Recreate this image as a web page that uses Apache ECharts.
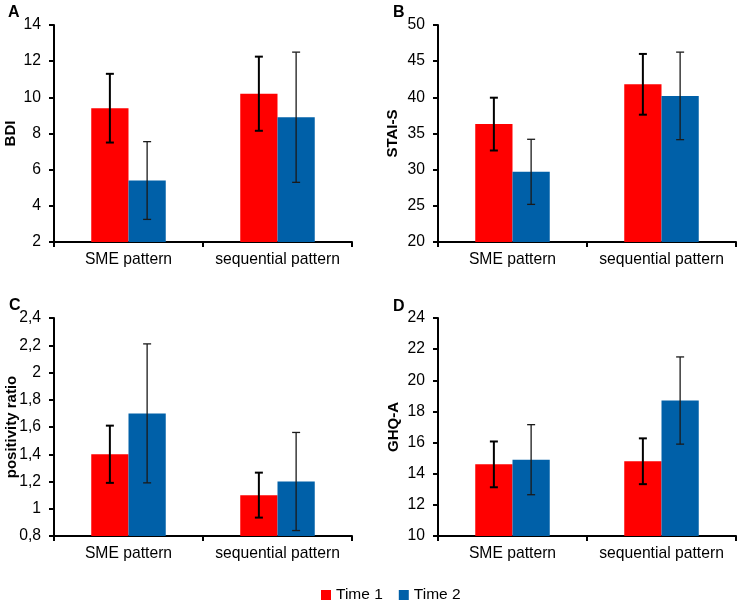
<!DOCTYPE html>
<html><head><meta charset="utf-8">
<script src="https://cdn.jsdelivr.net/npm/echarts@6/dist/echarts.min.js"></script>
<style>html,body{margin:0;padding:0;background:#fff}#c{width:740px;height:604px}</style>
</head><body><div id="c"></div>
<script>
const categories = ['SME pattern', 'sequential pattern'];
const legendNames = ['Time 1', 'Time 2'];

const bdiT1 = [9.4, 10.2];   const bdiT1Err = [1.9, 2.05];
const bdiT2 = [5.4, 8.9];    const bdiT2Err = [2.15, 3.6];
const staiT1 = [36.3, 41.8]; const staiT1Err = [3.65, 4.2];
const staiT2 = [29.7, 40.2]; const staiT2Err = [4.5, 6.05];
const posT1 = [1.4, 1.1];    const posT1Err = [0.21, 0.165];
const posT2 = [1.7, 1.2];    const posT2Err = [0.51, 0.36];
const ghqT1 = [14.6, 14.8];  const ghqT1Err = [1.47, 1.47];
const ghqT2 = [14.9, 18.7];  const ghqT2Err = [2.25, 2.8];

const panelLetters = ['A', 'B', 'C', 'D'];
const axisNames = ['BDI', 'STAI-S', 'positivity ratio', 'GHQ-A'];
const yMin = [2, 20, 0.8, 10];
const yMax = [14, 50, 2.4, 24];
const yInterval = [2, 5, 0.2, 2];

const panels = [
  [bdiT1, bdiT1Err, bdiT2, bdiT2Err],
  [staiT1, staiT1Err, staiT2, staiT2Err],
  [posT1, posT1Err, posT2, posT2Err],
  [ghqT1, ghqT1Err, ghqT2, ghqT2Err]
];

const FONT = "'Liberation Sans', Arial, sans-serif";
const FS = 15.7;
const RED = '#ff0000', BLUE = '#0060a8';
const gridPos = [
  {left: 54, top: 25, width: 298, height: 217},
  {left: 438, top: 25, width: 298, height: 217},
  {left: 54, top: 318, width: 298, height: 218},
  {left: 438, top: 318, width: 298, height: 218}
];
const nameGaps = [36, 38, 35, 37];
const letterPos = [[8, 5], [393, 5], [9, 298], [393, 299]];

const grids = [], xAxes = [], yAxes = [], series = [], graphics = [];
function fmt(v) { return String(+v.toFixed(1)).replace('.', ','); }

function errItem(which, lw, cap) {
  return function (params, api) {
    const c = api.value(0), m = api.value(1), e = api.value(2);
    const band = api.size([1, 0])[0];
    const off = (which === 0 ? -1 : 1) * band * 0.125;
    const top = api.coord([c, m + e]);
    const bot = api.coord([c, m - e]);
    const x = top[0] + off;
    const st = {stroke: which === 0 ? '#000' : '#1a1a1a', lineWidth: lw};
    return {type: 'group', children: [
      {type: 'line', shape: {x1: x, y1: top[1], x2: x, y2: bot[1]}, style: st},
      {type: 'line', shape: {x1: x - cap, y1: top[1], x2: x + cap, y2: top[1]}, style: st},
      {type: 'line', shape: {x1: x - cap, y1: bot[1], x2: x + cap, y2: bot[1]}, style: st}
    ]};
  };
}

panels.forEach((p, i) => {
  grids.push(gridPos[i]);
  xAxes.push({
    type: 'category', gridIndex: i, data: categories,
    axisLine: {lineStyle: {color: '#000', width: 2}},
    axisTick: {show: true, length: 5, lineStyle: {color: '#000', width: 2}},
    axisLabel: {color: '#000', fontSize: FS, fontFamily: FONT, margin: 10, interval: 0}
  });
  yAxes.push({
    type: 'value', gridIndex: i, min: yMin[i], max: yMax[i], interval: yInterval[i],
    name: axisNames[i], nameLocation: 'middle', nameGap: nameGaps[i], nameRotate: 90,
    nameMoveOverlap: false,
    nameTextStyle: {color: '#000', fontSize: 15, fontWeight: 'bold', fontFamily: FONT},
    axisLine: {show: true, lineStyle: {color: '#000', width: 2}},
    axisTick: {show: true, length: 5, lineStyle: {color: '#000', width: 2}},
    splitLine: {show: false},
    axisLabel: {color: '#000', fontSize: FS, fontFamily: FONT, margin: 13,
      formatter: i === 2 ? fmt : (v => String(v))}
  });
  series.push({name: legendNames[0], type: 'bar', xAxisIndex: i, yAxisIndex: i,
    data: p[0], itemStyle: {color: RED}, barGap: '0%', barCategoryGap: '50%'});
  series.push({name: legendNames[1], type: 'bar', xAxisIndex: i, yAxisIndex: i,
    data: p[2], itemStyle: {color: BLUE}, barGap: '0%', barCategoryGap: '50%'});
  series.push({type: 'custom', xAxisIndex: i, yAxisIndex: i, z: 10,
    renderItem: errItem(0, 2, 4),
    data: p[0].map((v, k) => [k, v, p[1][k]])});
  series.push({type: 'custom', xAxisIndex: i, yAxisIndex: i, z: 10,
    renderItem: errItem(1, 1.3, 4),
    data: p[2].map((v, k) => [k, v, p[3][k]])});
  graphics.push({type: 'text', left: letterPos[i][0], top: letterPos[i][1],
    style: {text: panelLetters[i], fill: '#000', font: "bold 16px 'Liberation Sans', Arial, sans-serif"}});
});

const chart = echarts.init(document.getElementById('c'), null, {renderer: 'canvas'});
chart.setOption({
  animation: false,
  backgroundColor: '#fff',
  grid: grids, xAxis: xAxes, yAxis: yAxes, series: series,
  graphic: graphics,
  legend: {
    data: legendNames, top: 582, left: 316, icon: 'rect',
    itemWidth: 10, itemHeight: 10, itemGap: 16,
    textStyle: {color: '#000', fontSize: 15.5, fontFamily: FONT}
  }
});
</script></body></html>
